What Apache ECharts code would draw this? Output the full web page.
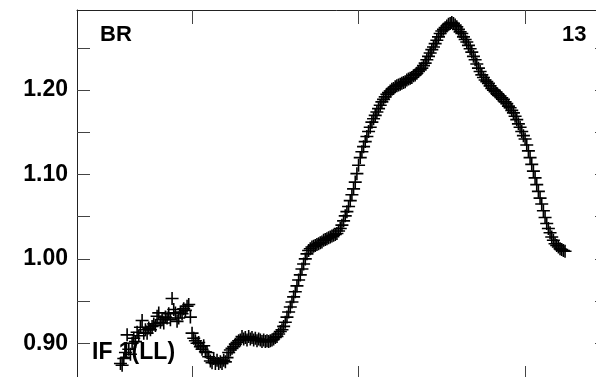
<!DOCTYPE html>
<html>
<head>
<meta charset="utf-8">
<script src="https://cdn.jsdelivr.net/npm/echarts@6/dist/echarts.min.js"></script>
<style>
html,body{margin:0;padding:0;background:#fff;}
#chart{width:596px;height:377px;}
</style>
</head>
<body>
<div id="chart"></div>
<script>
// Spectrum: first channel number and flux values per channel
const firstChannel = 57;
const fluxValues = [
  0.876,0.874,0.882,0.889,0.910,0.893,0.887,0.900,0.906,0.902,
  0.913,0.909,0.919,0.927,0.912,0.916,0.912,0.918,0.916,0.920,
  0.923,0.921,0.932,0.936,0.925,0.928,0.924,0.931,0.930,0.935,
  0.928,0.953,0.940,0.936,0.926,0.930,0.937,0.935,0.941,0.939,
  0.944,0.946,0.931,0.912,0.906,0.903,0.900,0.901,0.896,0.893,
  0.897,0.890,0.889,0.884,0.879,0.877,0.882,0.876,0.880,0.876,
  0.878,0.876,0.880,0.878,0.883,0.889,0.892,0.894,0.896,0.899,
  0.901,0.903,0.904,0.908,0.905,0.907,0.904,0.908,0.905,0.907,
  0.904,0.906,0.903,0.905,0.904,0.902,0.904,0.902,0.903,0.902,
  0.903,0.904,0.905,0.907,0.908,0.911,0.914,0.916,0.920,0.925,
  0.931,0.937,0.943,0.949,0.955,0.961,0.968,0.975,0.981,0.988,
  0.994,1.000,1.006,1.010,1.012,1.014,1.015,1.016,1.017,1.018,
  1.019,1.020,1.022,1.023,1.024,1.025,1.026,1.027,1.028,1.029,
  1.030,1.033,1.036,1.040,1.045,1.051,1.056,1.062,1.069,1.076,
  1.083,1.091,1.101,1.111,1.120,1.127,1.133,1.139,1.145,1.151,
  1.156,1.162,1.166,1.170,1.174,1.178,1.182,1.186,1.189,1.192,
  1.195,1.197,1.199,1.201,1.202,1.204,1.205,1.206,1.207,1.208,
  1.209,1.210,1.212,1.213,1.214,1.215,1.217,1.218,1.220,1.222,
  1.224,1.226,1.229,1.232,1.236,1.240,1.244,1.248,1.251,1.255,
  1.259,1.263,1.267,1.270,1.272,1.274,1.276,1.278,1.279,1.280,
  1.279,1.277,1.275,1.272,1.269,1.267,1.263,1.260,1.257,1.253,
  1.249,1.245,1.240,1.236,1.231,1.226,1.222,1.218,1.215,1.212,
  1.210,1.208,1.205,1.202,1.200,1.198,1.196,1.194,1.193,1.191,
  1.189,1.186,1.184,1.181,1.179,1.176,1.173,1.169,1.165,1.160,
  1.156,1.151,1.146,1.142,1.135,1.128,1.120,1.112,1.104,1.096,
  1.088,1.080,1.072,1.065,1.057,1.049,1.042,1.036,1.031,1.026,
  1.022,1.018,1.016,1.014,1.012,1.011,1.010,1.009
];
const xTickValues = [100, 200, 300];
const yTickValues = [0.90, 0.95, 1.00, 1.05, 1.10, 1.15, 1.20, 1.25];
const yLabelValues = [0.90, 1.00, 1.10, 1.20];
const labelTopLeft = 'BR';
const labelTopRight = '13';
const labelBottomLeft = 'IF 1(LL)';

const xRange = [30.9, 349.8];
const yRange = [0.8565, 1.2949];

const FONT = "'Liberation Sans', Arial, sans-serif";
const chart = echarts.init(document.getElementById('chart'), null, {renderer: 'canvas'});

const data = fluxValues.map((v, i) => [firstChannel + i, v]);
const plus = 'path://M0,5.7H13V7.3H0Z M5.7,0H7.3V13H5.7Z';

const lineStyle = {color: '#222', width: 1};
const tickStyle = {color: '#444', width: 1};

function xAxis(pos) {
  return {
    type: 'value', position: pos, min: xRange[0], max: xRange[1],
    axisLine: {show: true, lineStyle: lineStyle},
    axisTick: {show: true, inside: true, length: 14, customValues: xTickValues, lineStyle: tickStyle},
    axisLabel: {show: false},
    splitLine: {show: false}
  };
}
function yAxis(pos, labels) {
  return {
    type: 'value', position: pos, min: yRange[0], max: yRange[1],
    axisLine: {show: true, onZero: false, lineStyle: lineStyle},
    axisTick: {show: true, inside: true, length: 13, customValues: yTickValues, lineStyle: tickStyle},
    axisLabel: labels ? {
      show: true, customValues: yLabelValues, margin: 9,
      formatter: v => Number(v).toFixed(2),
      color: '#000', fontFamily: FONT, fontWeight: 'bold', fontSize: 23
    } : {show: false},
    splitLine: {show: false}
  };
}

chart.setOption({
  animation: false,
  backgroundColor: '#fff',
  grid: {left: 77, top: 10, right: -12, bottom: -3, containLabel: false, outerBoundsMode: 'none'},
  xAxis: [xAxis('bottom'), xAxis('top')],
  yAxis: [yAxis('left', true), yAxis('right', false)],
  series: [{
    type: 'scatter',
    xAxisIndex: 0, yAxisIndex: 0,
    data: data,
    symbol: plus,
    symbolSize: 13,
    itemStyle: {color: '#000', opacity: 1},
    silent: true,
    clip: false
  }],
  graphic: [
    {type: 'text', left: 100, top: 24, style: {text: labelTopLeft, font: "bold 22px " + FONT, fill: '#000'}},
    {type: 'text', left: 562, top: 24, style: {text: labelTopRight, font: "bold 22px " + FONT, fill: '#000'}},
    {type: 'text', left: 92, top: 341, z: 10, style: {text: labelBottomLeft, font: "bold 23px " + FONT, fill: '#000'}}
  ]
});
</script>
</body>
</html>
